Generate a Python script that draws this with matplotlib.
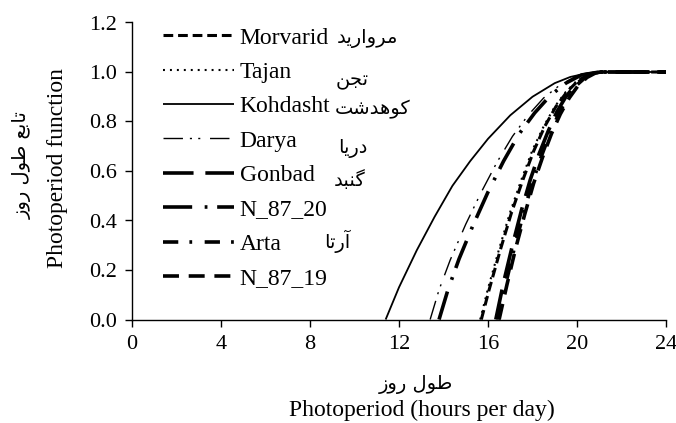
import matplotlib
matplotlib.use("Agg")
import matplotlib.pyplot as plt

plt.rcParams['lines.scale_dashes'] = False

# ---------------- data ----------------
morvarid_x = [15.7, 16.05, 16.55, 17.05, 17.55, 18.05, 18.55, 19.05, 19.55, 20.05, 20.55, 21.05, 24.0]
morvarid_y = [0.0, 0.12, 0.28, 0.43, 0.56, 0.68, 0.78, 0.86, 0.92, 0.965, 0.99, 1.0, 1.0]

tajan_x = [15.65, 16.0, 16.5, 17.0, 17.5, 18.0, 18.5, 19.0, 19.5, 20.0, 20.5, 21.0, 24.0]
tajan_y = [0.0, 0.125, 0.285, 0.435, 0.565, 0.685, 0.78, 0.86, 0.92, 0.965, 0.99, 1.0, 1.0]

kohdasht_x = [11.4, 12.0, 12.8, 13.6, 14.4, 15.2, 16.0, 17.0, 18.0, 19.0, 19.7, 20.5, 21.3, 24.0]
kohdasht_y = [0.0, 0.13, 0.28, 0.415, 0.54, 0.64, 0.73, 0.825, 0.90, 0.955, 0.98, 0.996, 1.0, 1.0]

darya_x = [13.4, 13.8, 14.3, 15.0, 15.7, 16.4, 17.1, 17.8, 18.5, 19.2, 20.0, 20.8, 21.3, 24.0]
darya_y = [0.0, 0.12, 0.24, 0.385, 0.515, 0.635, 0.74, 0.825, 0.895, 0.945, 0.985, 0.999, 1.0, 1.0]

gonbad_x = [16.35, 16.7, 17.1, 17.5, 17.9, 18.3, 18.7, 19.1, 19.5, 19.9, 20.3, 20.7, 21.1, 24.0]
gonbad_y = [0.0, 0.15, 0.30, 0.44, 0.565, 0.67, 0.76, 0.84, 0.90, 0.945, 0.977, 0.996, 1.0, 1.0]

n8720_x = [13.8, 14.2, 14.7, 15.3, 16.0, 16.7, 17.4, 18.1, 18.8, 19.5, 20.2, 21.0, 24.0]
n8720_y = [0.0, 0.12, 0.245, 0.375, 0.515, 0.64, 0.75, 0.835, 0.905, 0.955, 0.988, 1.0, 1.0]

arta_x = [16.45, 16.8, 17.2, 17.6, 18.0, 18.4, 18.8, 19.2, 19.6, 20.0, 20.4, 20.8, 21.1, 24.0]
arta_y = [0.0, 0.145, 0.295, 0.43, 0.555, 0.66, 0.755, 0.835, 0.90, 0.948, 0.98, 0.997, 1.0, 1.0]

n8719_x = [16.5, 16.85, 17.25, 17.65, 18.05, 18.45, 18.85, 19.25, 19.65, 20.05, 20.45, 20.85, 21.15, 24.0]
n8719_y = [0.0, 0.14, 0.29, 0.425, 0.55, 0.655, 0.75, 0.83, 0.895, 0.945, 0.978, 0.997, 1.0, 1.0]

labels_en = ['Morvarid', 'Tajan', 'Kohdasht', 'Darya', 'Gonbad', 'N_87_20', 'Arta', 'N_87_19']
labels_fa = ['مروارید', 'تجن', 'کوهدشت', 'دریا', 'گنبد', None, 'آرتا', None]

x_ticks = [0, 4, 8, 12, 16, 20, 24]
y_ticks = [0.0, 0.2, 0.4, 0.6, 0.8, 1.0, 1.2]
y_label_en = 'Photoperiod function'
y_label_fa = 'تابع طول روز'
x_label_en = 'Photoperiod (hours per day)'
x_label_fa = 'طول روز'

# ---------------- simple Persian shaping (logical -> visual presentation forms) ----------------
FORMS = {
    'ا': ('\uFE8D', '\uFE8E', None, None),
    'آ': ('\uFE81', '\uFE82', None, None),
    'ب': ('\uFE8F', '\uFE90', '\uFE91', '\uFE92'),
    'ت': ('\uFE95', '\uFE96', '\uFE97', '\uFE98'),
    'ج': ('\uFE9D', '\uFE9E', '\uFE9F', '\uFEA0'),
    'د': ('\uFEA9', '\uFEAA', None, None),
    'ر': ('\uFEAD', '\uFEAE', None, None),
    'ز': ('\uFEAF', '\uFEB0', None, None),
    'ش': ('\uFEB5', '\uFEB6', '\uFEB7', '\uFEB8'),
    'ط': ('\uFEC1', '\uFEC2', '\uFEC3', '\uFEC4'),
    'ع': ('\uFEC9', '\uFECA', '\uFECB', '\uFECC'),
    'ل': ('\uFEDD', '\uFEDE', '\uFEDF', '\uFEE0'),
    'م': ('\uFEE1', '\uFEE2', '\uFEE3', '\uFEE4'),
    'ن': ('\uFEE5', '\uFEE6', '\uFEE7', '\uFEE8'),
    'ه': ('\uFEE9', '\uFEEA', '\uFEEB', '\uFEEC'),
    'و': ('\uFEED', '\uFEEE', None, None),
    'ی': ('\uFBFC', '\uFBFD', '\uFBFE', '\uFBFF'),
    'ک': ('\uFB8E', '\uFB8F', '\uFB90', '\uFB91'),
    'گ': ('\uFB92', '\uFB93', '\uFB94', '\uFB95'),
}
RIGHT_ONLY = set('اآدذرزژو')


def dual(c):
    return c in FORMS and c not in RIGHT_ONLY


def shape(text):
    out = []
    for i, c in enumerate(text):
        if c not in FORMS:
            out.append(c)
            continue
        prev = text[i - 1] if i > 0 else ''
        nxt = text[i + 1] if i + 1 < len(text) else ''
        jp = dual(prev)
        jn = dual(c) and (nxt in FORMS)
        iso, fin, ini, med = FORMS[c]
        if jp and jn:
            out.append(med)
        elif jn:
            out.append(ini)
        elif jp:
            out.append(fin)
        else:
            out.append(iso)
    return ''.join(reversed(out))


# ---------------- figure ----------------
W, H = 676, 423
fig = plt.figure(figsize=(W / 100, H / 100), dpi=100)
ax = fig.add_axes([132 / W, 1 - 319.5 / H, (666 - 132) / W, (319.5 - 22.5) / H])

serif = ['Liberation Serif', 'DejaVu Serif']
fa_font = ['DejaVu Sans']

series = [
    (morvarid_x, morvarid_y, dict(lw=2.2, dashes=(7, 3.5))),
    (tajan_x, tajan_y, dict(lw=1.5, dashes=(1.4, 3.6))),
    (kohdasht_x, kohdasht_y, dict(lw=1.3, linestyle='-')),
    (darya_x, darya_y, dict(lw=1.0, dashes=(14, 5, 1.5, 4.5, 1.5, 7))),
    (gonbad_x, gonbad_y, dict(lw=2.6, dashes=(22, 8.5))),
    (n8720_x, n8720_y, dict(lw=2.6, dashes=(21, 9, 2, 7))),
    (arta_x, arta_y, dict(lw=2.6, dashes=(11, 8, 2, 9))),
    (n8719_x, n8719_y, dict(lw=2.6, dashes=(11.5, 7))),
]

handles = []
for (xs, ys, st), lab in zip(series, labels_en):
    h, = ax.plot(xs, ys, color='black', label=lab, solid_capstyle='butt',
                 dash_capstyle='butt', **st)
    handles.append(h)

ax.set_xlim(0, 24)
ax.set_ylim(0, 1.2)
ax.set_xticks(x_ticks)
ax.set_yticks(y_ticks)
ax.set_xticklabels([str(t) for t in x_ticks], fontfamily=serif, fontsize=16)
ax.set_yticklabels([f'{t:.1f}' for t in y_ticks], fontfamily=serif, fontsize=16)
ax.tick_params(direction='out', length=5, width=1, colors='black', pad=6)
for s in ['top', 'right']:
    ax.spines[s].set_visible(False)
for s in ['left', 'bottom']:
    ax.spines[s].set_linewidth(1.0)

leg = ax.legend(handles=handles, loc='upper left',
                bbox_to_anchor=((163 - 132) / 534, (319.5 - 27) / 297),
                frameon=False, handlelength=3.0, handletextpad=0.25,
                labelspacing=0.545, borderpad=0, borderaxespad=0,
                prop={'family': serif, 'size': 17})

# Persian labels next to legend entries (pixel centres)
fa_pos = [(367, 39), (352, 80), (373, 109), (353, 148), (350, 180), None, (337, 241), None]
for name, pos in zip(labels_fa, fa_pos):
    if name is None:
        continue
    fig.text(pos[0] / W, 1 - pos[1] / H, shape(name), fontfamily=fa_font,
             fontsize=14, ha='center', va='center')

# axis labels
fig.text(58 / W, 1 - 168 / H, y_label_en, rotation=90, fontfamily=serif,
         fontsize=17, ha='center', va='center')
fig.text(22 / W, 1 - 165 / H, shape(y_label_fa), rotation=90, fontfamily=fa_font,
         fontsize=14, ha='center', va='center')
fig.text(416 / W, 1 - 384 / H, shape(x_label_fa), fontfamily=fa_font,
         fontsize=14, ha='center', va='center')
fig.text(422 / W, 1 - 410 / H, x_label_en, fontfamily=serif,
         fontsize=17, ha='center', va='center')

fig.savefig('out.png', dpi=100)
